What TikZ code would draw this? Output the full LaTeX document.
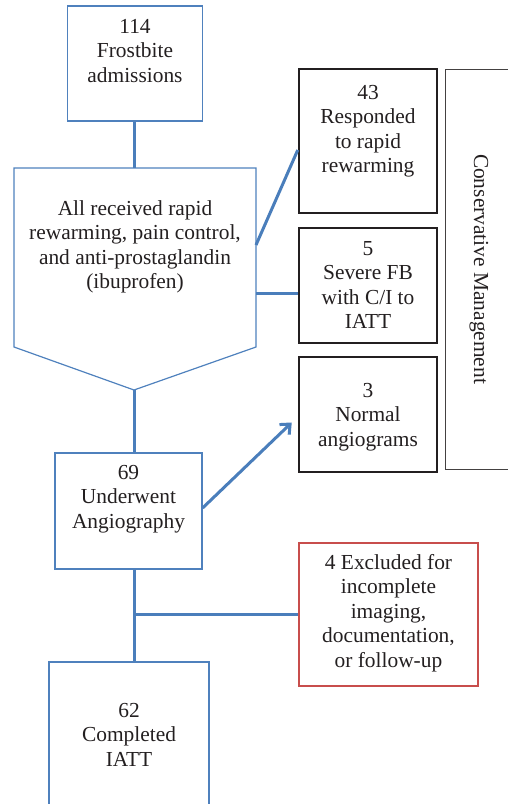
\documentclass[tikz,border=0pt]{standalone}
\usepackage{fontspec}
\setmainfont{Liberation Serif}
\usetikzlibrary{arrows.meta,calc}

\definecolor{flowblue}{RGB}{74,126,187}
\definecolor{boxblue}{RGB}{79,129,189}
\definecolor{boxred}{RGB}{200,78,76}
\definecolor{ink}{RGB}{35,31,32}

\begin{document}
\begin{tikzpicture}[x=1pt, y=-1pt,
    every node/.style={font=\fontsize{21.4}{24.5}\selectfont, text=ink, align=center, inner sep=0pt},
    stage/.style={draw=boxblue, line width=1.2pt},
    outcome/.style={draw=ink, line width=2.5pt, minimum width=138pt},
    excluded/.style={draw=boxred, line width=1.2pt},
    link/.style={draw=flowblue, line width=3pt}]
  \useasboundingbox (0,0) rectangle (508,804);

  % main column
  \node[stage, minimum width=135pt, text height=76pt, text depth=39pt] (adm) at (135,63.5) {114\\Frostbite\\admissions};
  \coordinate (ptop) at (134,168);
  \coordinate (tip) at (134,390);
  \coordinate (r1) at (256,245);
  \coordinate (r2) at (256,293);
  \draw[stage] (14,168) -- (256,168) -- (256,347) -- (tip) -- (14,347) -- cycle;
  \node[anchor=base] (treat) at (135,288.5) {All received rapid\\rewarming, pain control,\\and anti-prostaglandin\\(ibuprofen)};
  \node[stage, minimum width=147pt, text height=75pt, text depth=41pt] (angio) at (128.5,511) {69\\Underwent\\Angiography};
  \node[stage, minimum width=160pt, text height=104pt, text depth=40pt] (done) at (129,734) {62\\Completed\\IATT};

  % side boxes
  \node[outcome, text height=103.5pt, text depth=40.5pt] (resp) at (368,141) {43\\Responded\\to rapid\\rewarming};
  \node[outcome, text height=100.5pt, text depth=14.5pt] (sev) at (368,285.5) {5\\Severe FB\\with C/I to\\IATT};
  \node[outcome, text height=89pt, text depth=26pt] (norm) at (368,414.5) {3\\Normal\\angiograms};
  \node[draw=ink!85, line width=1pt, rotate=-90, minimum width=400pt, minimum height=67pt] (cons) at (479,269) {Conservative Management};
  \node[excluded, minimum width=179pt, text height=124pt, text depth=19pt] (excl) at (388.5,614.5) {4 Excluded for\\incomplete\\imaging,\\documentation,\\or follow-up};

  % connectors
  \draw[link] (adm.south -| ptop) -- (ptop);
  \draw[link] (tip) -- (tip |- angio.north);
  \draw[link] (tip |- angio.south) -- (tip |- done.north);
  \draw[link] (tip |- excl.west) -- (excl.west);
  \draw[link] (r1) -- ($(resp.west)+(0,9)$);
  \draw[link] (r2) -- (r2 -| sev.west);
  \draw[link, -{Straight Barb[length=8pt, width=14pt, line width=3pt]}] ($(angio.east)+(0,-3)$) -- ($(norm.west)+(-6,8)$);
\end{tikzpicture}
\end{document}
